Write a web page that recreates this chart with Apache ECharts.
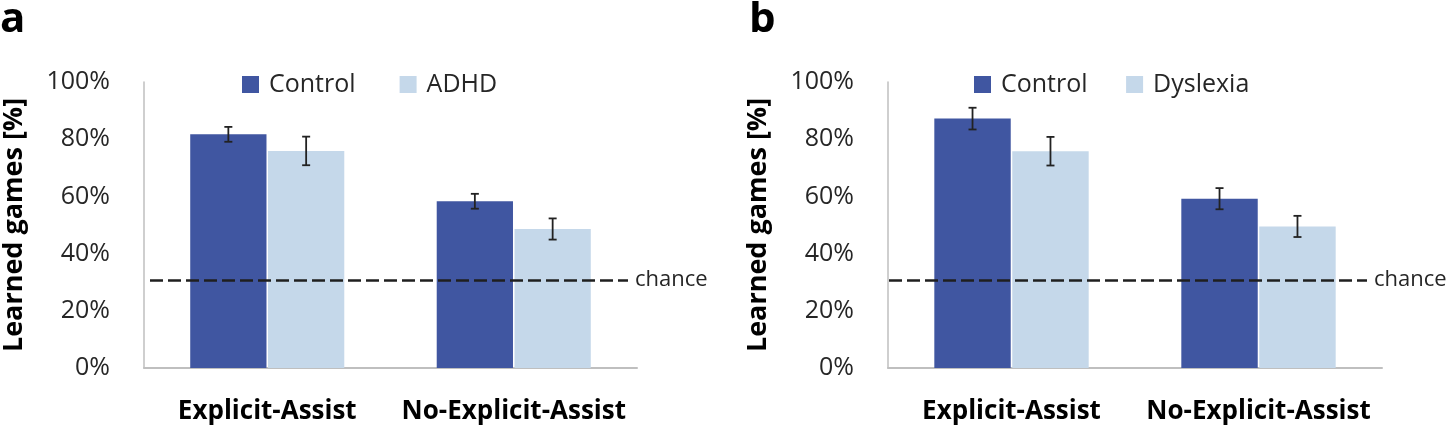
<!DOCTYPE html>
<html>
<head>
<meta charset="utf-8">
<script src="https://cdn.jsdelivr.net/npm/echarts@6/dist/echarts.min.js"></script>
<style>
  html, body { margin: 0; padding: 0; background: #fff; }
  #chart { width: 1451px; height: 428px; }
</style>
</head>
<body>
<div id="chart"></div>
<script>
// ---- data ----
const categories = ['Explicit-Assist', 'No-Explicit-Assist'];
const yTickValues = [0, 20, 40, 60, 80, 100];
const chanceLevel = 30.7;

// panel a
const controlA = [81.7, 58.3];
const controlAErr = [2.6, 2.6];
const adhd = [75.9, 48.6];
const adhdErr = [5.0, 3.7];

// panel b
const controlB = [87.2, 59.2];
const controlBErr = [3.8, 3.7];
const dyslexia = [75.8, 49.5];
const dyslexiaErr = [5.0, 3.7];

// ---- style ----
const FONT = 'Open Sans';
const C_CONTROL = '#4056A1';
const C_LIGHT = '#C5D8EA';
const TXT = '#262626';
const AXIS_GRAY = '#BFBFBF';
const CAT_GAP = 0.375;
const BAR_GAP = 0.02;
// how far the chance line stays inside each grid (left, right), px
const CHANCE_INSET = [[6, 9], [1, 15]];

function errData(vals, errs) {
  return vals.map((v, i) => [i, v, errs[i]]);
}

function errorSeries(name, xi, vals, errs, seriesIndexInGroup) {
  return {
    type: 'custom',
    name: name,
    xAxisIndex: xi,
    yAxisIndex: xi,
    silent: true,
    z: 10,
    data: errData(vals, errs),
    encode: { x: 0, y: 1 },
    renderItem: function (params, api) {
      const ci = api.value(0);
      const v = api.value(1);
      const e = api.value(2);
      const band = api.size([1, 0])[0];
      const n = 2;
      const w = band * (1 - CAT_GAP) / (n + (n - 1) * BAR_GAP);
      const total = n * w + (n - 1) * BAR_GAP * w;
      const off = -total / 2 + seriesIndexInGroup * (w + BAR_GAP * w) + w / 2;
      const hi = api.coord([ci, v + e]);
      const lo = api.coord([ci, v - e]);
      const x = hi[0] + off;
      const cap = 4;
      const style = { stroke: '#222', lineWidth: 1.8 };
      return {
        type: 'group',
        children: [
          { type: 'line', shape: { x1: x, y1: hi[1], x2: x, y2: lo[1] }, style: style },
          { type: 'line', shape: { x1: x - cap, y1: hi[1], x2: x + cap, y2: hi[1] }, style: style },
          { type: 'line', shape: { x1: x - cap, y1: lo[1], x2: x + cap, y2: lo[1] }, style: style }
        ]
      };
    }
  };
}

function barSeries(name, xi, vals, color) {
  return {
    type: 'bar',
    name: name,
    xAxisIndex: xi,
    yAxisIndex: xi,
    data: vals,
    barCategoryGap: (CAT_GAP * 100) + '%',
    barGap: (BAR_GAP * 100) + '%',
    itemStyle: { color: color },
    emphasis: { disabled: true }
  };
}

function xAxisCfg(gi) {
  return {
    type: 'category',
    gridIndex: gi,
    data: categories,
    axisTick: { show: false },
    axisLine: { show: true, lineStyle: { color: AXIS_GRAY, width: 2 } },
    axisLabel: { interval: 0, fontFamily: FONT, fontSize: 26, fontWeight: 'bold', color: '#000', margin: 31 },
    splitLine: { show: false }
  };
}

function yAxisCfg(gi) {
  return {
    type: 'value',
    gridIndex: gi,
    min: yTickValues[0],
    max: yTickValues[yTickValues.length - 1],
    interval: yTickValues[1] - yTickValues[0],
    name: 'Learned games [%]',
    nameLocation: 'middle',
    nameRotate: 90,
    nameGap: 116,
    nameTextStyle: { fontFamily: FONT, fontSize: 27, fontWeight: 'bold', color: '#000' },
    axisTick: { show: false },
    axisLine: { show: true, lineStyle: { color: AXIS_GRAY, width: 1.5 } },
    splitLine: { show: false },
    axisLabel: { fontFamily: FONT, fontSize: 25, color: TXT, margin: 34, formatter: '{value}%' }
  };
}

const legendText = { fontFamily: FONT, fontSize: 25, color: TXT, padding: [0, 0, 0, 5] };

const option = {
  animation: false,
  backgroundColor: '#fff',
  textStyle: { fontFamily: FONT },
  grid: [
    { left: 144, top: 82, width: 493, height: 286, containLabel: false },
    { left: 888, top: 82, width: 494, height: 286, containLabel: false }
  ],
  legend: [
    {
      left: 242, top: 72, padding: 0, itemGap: 44, itemWidth: 17, itemHeight: 17,
      icon: 'rect', data: ['Control', 'ADHD'], textStyle: legendText, selectedMode: false
    },
    {
      left: 974, top: 72, padding: 0, itemGap: 32, itemWidth: 17, itemHeight: 17,
      icon: 'rect', data: ['Control ', 'Dyslexia'], textStyle: legendText, selectedMode: false
    }
  ],
  xAxis: [xAxisCfg(0), xAxisCfg(1)],
  yAxis: [yAxisCfg(0), yAxisCfg(1)],
  graphic: [
    { type: 'text', left: 0, top: -1, style: { text: 'a', fontFamily: FONT, fontSize: 42, fontWeight: 'bold', fill: '#000' } },
    { type: 'text', left: 749, top: -1, style: { text: 'b', fontFamily: FONT, fontSize: 42, fontWeight: 'bold', fill: '#000' } }
  ],
  series: [
    barSeries('Control', 0, controlA, C_CONTROL),
    barSeries('ADHD', 0, adhd, C_LIGHT),
    errorSeries('errA0', 0, controlA, controlAErr, 0),
    errorSeries('errA1', 0, adhd, adhdErr, 1),
    barSeries('Control ', 1, controlB, C_CONTROL),
    barSeries('Dyslexia', 1, dyslexia, C_LIGHT),
    errorSeries('errB0', 1, controlB, controlBErr, 0),
    errorSeries('errB1', 1, dyslexia, dyslexiaErr, 1)
  ]
};

const chart = echarts.init(document.getElementById('chart'), null, { renderer: 'canvas' });
chart.setOption(option);

// chance reference line: y comes from the value axis, ends are inset from the grid edges
function chanceMarkLine(gi) {
  const rect = chart.getModel().getComponent('grid', gi).coordinateSystem.getRect();
  const y = chart.convertToPixel({ yAxisIndex: gi }, chanceLevel);
  return {
    silent: true,
    symbol: 'none',
    z: 8,
    lineStyle: { color: '#1f1f1f', width: 2.5, type: [13, 5] },
    label: {
      show: true, position: 'end', distance: 7, formatter: 'chance',
      fontFamily: FONT, fontSize: 22, color: TXT
    },
    data: [[
      { x: rect.x + CHANCE_INSET[gi][0], y: y },
      { x: rect.x + rect.width - CHANCE_INSET[gi][1], y: y }
    ]]
  };
}
chart.setOption({
  series: [
    { name: 'Control', markLine: chanceMarkLine(0) },
    {}, {}, {},
    { name: 'Control ', markLine: chanceMarkLine(1) }
  ]
});
</script>
</body>
</html>
